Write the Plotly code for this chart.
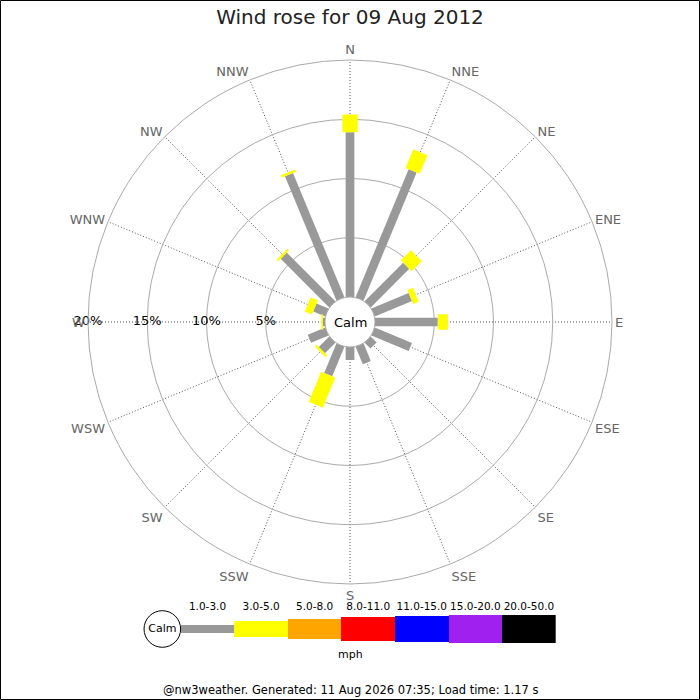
import plotly.graph_objects as go

# ---------------- data ----------------
directions = ["N", "NNE", "NE", "ENE", "E", "ESE", "SE", "SSE",
              "S", "SSW", "SW", "WSW", "W", "WNW", "NW", "NNW"]
angles = [0, 22.5, 45, 67.5, 90, 112.5, 135, 157.5,
          180, 202.5, 225, 247.5, 270, 292.5, 315, 337.5]
# percentage of time per direction for each speed class (mph)
pct_1_3 = [13.9, 11.7, 4.6, 3.4, 5.3, 3.4, 0.7, 1.6,
           1.1, 2.7, 1.25, 1.6, 0.17, 1.1, 5.8, 11.35]
pct_3_5 = [1.5, 1.7, 1.2, 0.5, 0.85, 0, 0, 0,
           0, 2.75, 0.2, 0, 0.14, 0.65, 0.2, 0.2]
speed_classes = ["1.0-3.0", "3.0-5.0", "5.0-8.0", "8.0-11.0",
                 "11.0-15.0", "15.0-20.0", "20.0-50.0"]
radial_ticks = [5, 10, 15, 20]
radial_tick_text = ["5%", "10%", "15%", "20%"]

title_text = "Wind rose for 09 Aug 2012"
footer_text = "@nw3weather. Generated: 11 Aug 2026 07:35; Load time: 1.17 s"

# ---------------- styles ----------------
class_colors = ["#999999", "#ffff00", "#ffa500", "#ff0000",
                "#0000ff", "#a020f0", "#000000"]
class_widths = [8.7, 15.3, 20.7, 23.3, 25.3, 27.3, 28.7]
FONT = "DejaVu Sans"
W = H = 700

fig = go.Figure()

# stacked radial segments drawn as thick radial lines
series = [pct_1_3, pct_3_5]
base = [0.0] * len(directions)
for ci, vals in enumerate(series):
    rr, tt = [], []
    for i, v in enumerate(vals):
        if v > 0:
            rr += [base[i], base[i] + v, None]
            tt += [angles[i], angles[i], None]
            base[i] += v
    fig.add_trace(go.Scatterpolar(
        r=rr, theta=tt, mode="lines", connectgaps=False,
        line=dict(color=class_colors[ci], width=class_widths[ci]),
        hoverinfo="skip", showlegend=False))

# radial tick labels along W axis
fig.add_trace(go.Scatterpolar(
    r=radial_ticks, theta=[270] * len(radial_ticks), mode="text",
    text=radial_tick_text, textposition="middle center",
    textfont=dict(family=FONT, size=13, color="black"),
    hoverinfo="skip", showlegend=False))

# ---------------- legend (cartesian) ----------------
lx = list(range(len(speed_classes)))
fig.add_trace(go.Bar(
    x=lx, y=class_widths, base=[-h / 2 for h in class_widths], width=1,
    marker=dict(color=class_colors, line=dict(width=0)),
    xaxis="x", yaxis="y", hoverinfo="skip", showlegend=False))
fig.add_trace(go.Scatter(
    x=lx, y=[22] * len(lx), mode="text", text=speed_classes,
    textposition="middle center",
    textfont=dict(family=FONT, size=10.5, color="black"),
    xaxis="x", yaxis="y", hoverinfo="skip", showlegend=False))
fig.add_trace(go.Scatter(
    x=[-0.843], y=[0], mode="markers+text", text=["Calm"],
    textposition="middle center",
    marker=dict(size=36.6, color="white", line=dict(color="black", width=1)),
    textfont=dict(family=FONT, size=11, color="black"),
    xaxis="x", yaxis="y", hoverinfo="skip", showlegend=False, cliponaxis=False))

px = 1.0 / W
fig.update_layout(
    width=W, height=H,
    margin=dict(l=0, r=0, t=0, b=0),
    paper_bgcolor="white", plot_bgcolor="white",
    font=dict(family=FONT, color="black"),
    title=dict(text=title_text, x=0.5, xanchor="center", y=1 - 17 / H,
               yanchor="middle", font=dict(family=FONT, size=20, color="#222222")),
    polar=dict(
        domain=dict(x=[88 / W, 612 / W], y=[1 - 584 / H, 1 - 60 / H]),
        hole=25 / 262,
        bgcolor="white",
        radialaxis=dict(range=[0, 20], tickvals=radial_ticks, showticklabels=False,
                        ticks="", showline=False, gridcolor="#aaaaaa", gridwidth=1),
        angularaxis=dict(rotation=90, direction="clockwise", tickmode="array",
                         tickvals=angles, ticktext=directions, ticks="",
                         showline=True, linecolor="#aaaaaa", linewidth=1,
                         gridcolor="#555555", griddash="1px,2px", gridwidth=1,
                         tickfont=dict(family=FONT, size=13, color="#666666")),
    ),
    xaxis=dict(domain=[140 / W, 555.7 / W], range=[-1.26, 6.5], visible=False,
               fixedrange=True),
    yaxis=dict(domain=[1 - 659 / H, 1 - 599 / H], range=[-30, 30], visible=False,
               fixedrange=True),
    bargap=0,
    annotations=[
        dict(text="Calm", x=0.5, y=1 - 322 / H, xref="paper", yref="paper",
             xanchor="center", yanchor="middle",
             showarrow=False, font=dict(family=FONT, size=13, color="black")),
        dict(text="mph", x=0.5, y=1 - 654 / H, xref="paper", yref="paper",
             xanchor="center", yanchor="middle",
             showarrow=False, font=dict(family=FONT, size=11, color="black")),
        dict(text=footer_text, x=0.5, y=1 - 690 / H, xref="paper", yref="paper",
             xanchor="center", yanchor="middle",
             showarrow=False, font=dict(family=FONT, size=11.5, color="black")),
    ],
    shapes=[dict(type="rect", xref="paper", yref="paper",
                 x0=0.5 * px, x1=1 - 0.5 * px, y0=0.5 * px, y1=1 - 0.5 * px,
                 line=dict(color="black", width=1), fillcolor="rgba(0,0,0,0)")],
)

fig.write_html("out.html",
               config={"displayModeBar": False},
               post_script="document.body.style.margin='0';"
                           "document.body.style.overflow='hidden';")
